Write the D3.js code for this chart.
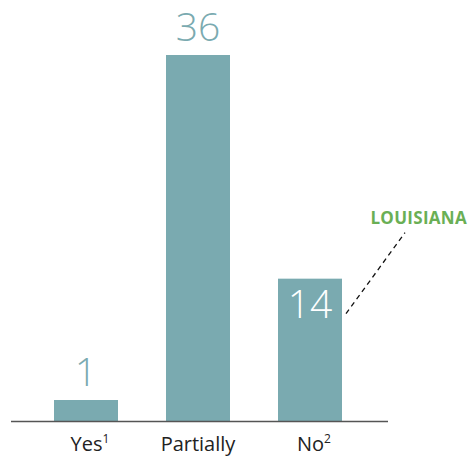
<!DOCTYPE html>
<html>
<head>
<meta charset="utf-8">
<script src="https://cdn.jsdelivr.net/npm/d3@7"></script>
<style>
  body { margin: 0; background: #fff; }
  text { font-family: "Open Sans", "Noto Sans", sans-serif; }
</style>
</head>
<body>
<script>
var categories = ["Yes", "Partially", "No"];
var notes = ["1", "", "2"];
var counts = [1, 36, 14];
var calloutLabel = "LOUISIANA";
var calloutIndex = 2;

var width = 468, height = 463;
var baseY = 421;
var barColor = "#7aaab0";
var minBar = 21;

var svg = d3.select("body").append("svg").attr("width", width).attr("height", height);

var x = d3.scaleBand()
  .domain(categories)
  .range([30, 366])
  .paddingInner(0.4286)
  .paddingOuter(0.2143);

var y = d3.scaleLinear().domain([0, 36]).range([baseY, 55]);

function barTop(v){ return Math.min(y(v), baseY - minBar); }

var data = categories.map(function(c, i){ return {cat: c, note: notes[i], v: counts[i], i: i}; });

svg.selectAll("rect.bar").data(data).enter().append("rect")
  .attr("class", "bar")
  .attr("x", function(d){ return x(d.cat); })
  .attr("y", function(d){ return barTop(d.v); })
  .attr("width", x.bandwidth())
  .attr("height", function(d){ return baseY - barTop(d.v); })
  .attr("fill", barColor);

// value labels: above the bar, or inside (white) for the callout bar
svg.selectAll("text.val").data(data).enter().append("text")
  .attr("class", "val")
  .attr("x", function(d){ return x(d.cat) + x.bandwidth() / 2; })
  .attr("y", function(d){ return d.i === calloutIndex ? barTop(d.v) + 39 : barTop(d.v) - 14; })
  .attr("text-anchor", "middle")
  .attr("font-size", 39)
  .attr("font-weight", 300)
  .attr("fill", function(d){ return d.i === calloutIndex ? "#fff" : barColor; })
  .text(function(d){ return d.v; });

// baseline
svg.append("line")
  .attr("x1", 11).attr("x2", 388)
  .attr("y1", baseY + 0.5).attr("y2", baseY + 0.5)
  .attr("stroke", "#555").attr("stroke-width", 1.5);

// category labels with footnote marks
var cat = svg.selectAll("text.cat").data(data).enter().append("text")
  .attr("class", "cat")
  .attr("x", function(d){ return x(d.cat) + x.bandwidth() / 2 + (d.note ? 4 : 0); })
  .attr("y", 451)
  .attr("text-anchor", "middle")
  .attr("font-size", 20)
  .attr("fill", "#222");
cat.append("tspan").text(function(d){ return d.cat; });
cat.append("tspan")
  .attr("font-size", 12)
  .attr("dy", -8)
  .text(function(d){ return d.note; });

// callout
var cb = data[calloutIndex];
var cx = x(cb.cat) + x.bandwidth();
svg.append("line")
  .attr("x1", cx + 4).attr("y1", barTop(cb.v) + 35)
  .attr("x2", cx + 63).attr("y2", barTop(cb.v) - 46)
  .attr("stroke", "#111").attr("stroke-width", 1.3)
  .attr("stroke-dasharray", "5,4");

svg.append("text")
  .attr("x", 467).attr("y", 224)
  .attr("text-anchor", "end")
  .attr("font-size", 17)
  .attr("font-weight", 700)
  .attr("letter-spacing", 0.3)
  .attr("fill", "#6aaf55")
  .text(calloutLabel);
</script>
</body>
</html>
